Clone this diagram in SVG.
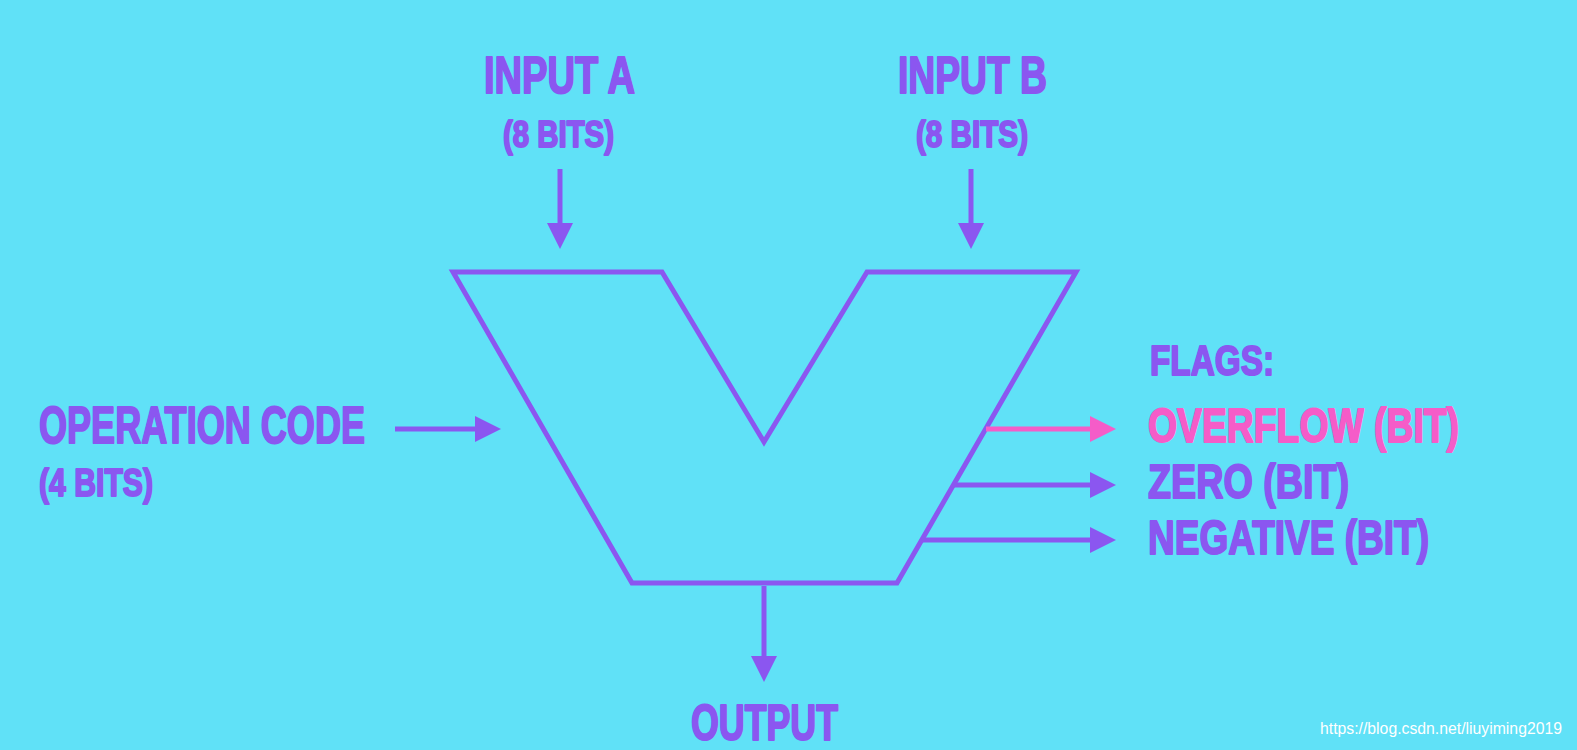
<svg xmlns="http://www.w3.org/2000/svg" width="1577" height="750" viewBox="0 0 1577 750">
<defs>
<style>
.t{font-family:"Liberation Sans",Arial,sans-serif;font-weight:bold;fill:#8b56f0;stroke:#8b56f0;stroke-width:2;stroke-linejoin:round}
.pk{fill:#f55cc8;stroke:#f55cc8}
.ln{stroke:#8b56f0;stroke-width:5;fill:none}
.lp{stroke:#f55cc8;stroke-width:5;fill:none}
.wm{font-family:"Liberation Sans",Arial,sans-serif;fill:#ffffff;font-size:16px}
</style>
<marker id="ah" markerUnits="userSpaceOnUse" markerWidth="30" markerHeight="30" viewBox="0 0 30 30" refX="12" refY="15" orient="auto">
<path d="M2,2 L28,15 L2,28 Z" fill="#8b56f0"/>
</marker>
<marker id="ahp" markerUnits="userSpaceOnUse" markerWidth="30" markerHeight="30" viewBox="0 0 30 30" refX="12" refY="15" orient="auto">
<path d="M2,2 L28,15 L2,28 Z" fill="#f55cc8"/>
</marker>
</defs>
<rect x="0" y="0" width="1577" height="750" fill="#60e1f7"/>

<g id="alu">
<polygon points="453,272 662,272 764,442 867,272 1076,272 897,583 632,583" fill="none" stroke="#8b56f0" stroke-width="5" stroke-linejoin="miter"/>
</g>

<g id="input-a">
<text class="t" x="484" y="93" font-size="52" textLength="151" lengthAdjust="spacingAndGlyphs">INPUT A</text>
<text class="t" x="503" y="147" font-size="37" textLength="111" lengthAdjust="spacingAndGlyphs">(8 BITS)</text>
</g>
<g id="input-b">
<text class="t" x="898" y="93" font-size="52" textLength="149" lengthAdjust="spacingAndGlyphs">INPUT B</text>
<text class="t" x="916" y="147" font-size="37" textLength="112" lengthAdjust="spacingAndGlyphs">(8 BITS)</text>
</g>
<g id="opcode">
<text class="t" x="39" y="443" font-size="52" textLength="326" lengthAdjust="spacingAndGlyphs">OPERATION CODE</text>
<text class="t" x="39" y="496" font-size="39" textLength="114" lengthAdjust="spacingAndGlyphs">(4 BITS)</text>
</g>
<g id="flags">
<text class="t" x="1150" y="375" font-size="43" textLength="124" lengthAdjust="spacingAndGlyphs">FLAGS:</text>
<text class="t pk" x="1148" y="442" font-size="49" textLength="311" lengthAdjust="spacingAndGlyphs">OVERFLOW (BIT)</text>
<text class="t" x="1148" y="498" font-size="49" textLength="201" lengthAdjust="spacingAndGlyphs">ZERO (BIT)</text>
<text class="t" x="1148" y="554" font-size="49" textLength="281" lengthAdjust="spacingAndGlyphs">NEGATIVE (BIT)</text>
</g>
<g id="output">
<text class="t" x="691" y="740" font-size="50" textLength="147" lengthAdjust="spacingAndGlyphs">OUTPUT</text>
</g>

<g id="connectors">
<line class="ln" x1="560" y1="169" x2="560" y2="233" marker-end="url(#ah)"/>
<line class="ln" x1="971" y1="169" x2="971" y2="233" marker-end="url(#ah)"/>
<line class="ln" x1="395" y1="429" x2="485" y2="429" marker-end="url(#ah)"/>
<line class="lp" x1="986" y1="429" x2="1100" y2="429" marker-end="url(#ahp)"/>
<line class="ln" x1="953" y1="485" x2="1100" y2="485" marker-end="url(#ah)"/>
<line class="ln" x1="922" y1="540" x2="1100" y2="540" marker-end="url(#ah)"/>
<line class="ln" x1="764" y1="586" x2="764" y2="666" marker-end="url(#ah)"/>
</g>

<text class="wm" x="1320" y="734" textLength="242" lengthAdjust="spacingAndGlyphs">https://blog.csdn.net/liuyiming2019</text>
</svg>
